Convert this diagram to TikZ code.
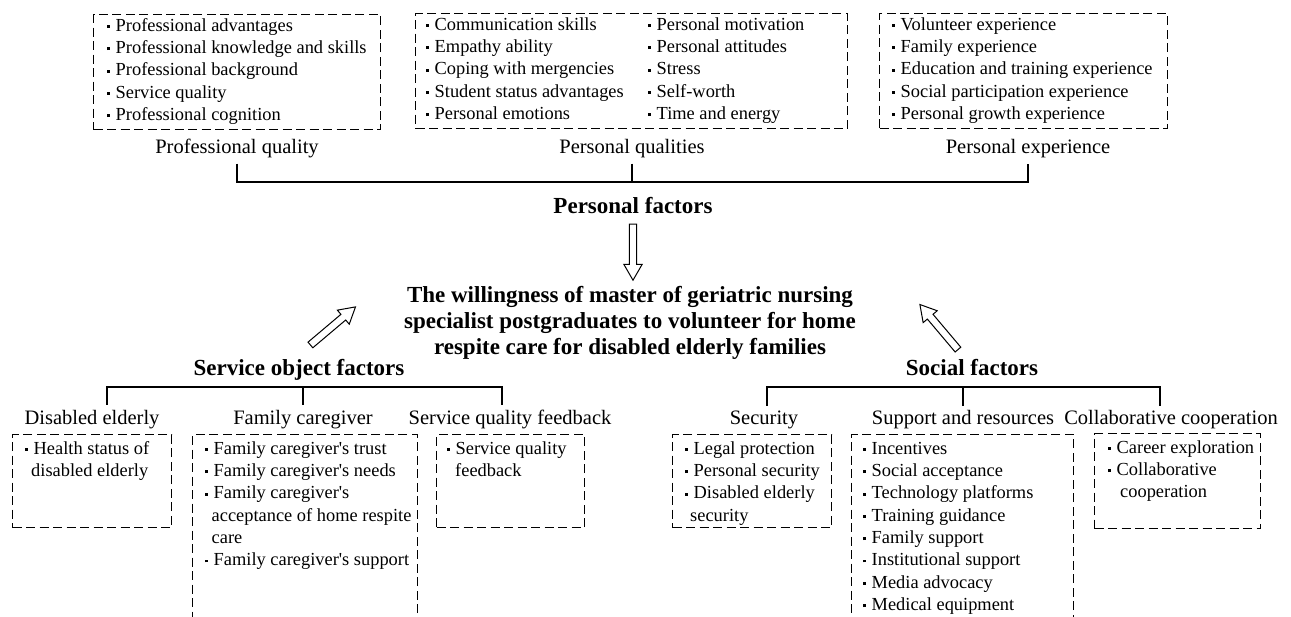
\documentclass[tikz,border=0pt]{standalone}
\usepackage{fontspec}
\setmainfont{Liberation Serif}
\usetikzlibrary{shapes.arrows}
% list bullet: small square dot, with a strut so every line has the same height
\newcommand\bu{\strut\makebox[8.5pt][l]{\raisebox{3.3pt}{\rule{2.9pt}{2.9pt}}}}
% continuation line of a wrapped list item
\newcommand\cont[1][6.5pt]{\strut\hspace*{#1}}
\newcommand\aps{\textquotesingle}

\begin{document}
\begin{tikzpicture}[x=1pt,y=-1pt,
  dbox/.style={draw, dash pattern=on 9pt off 4.5pt, line width=1.3pt, inner sep=0pt, anchor=north west},
  items/.style={inner sep=0pt, anchor=north west, align=left, font=\fontsize{18.4}{22.3}\selectfont},
  lbl/.style={inner sep=0pt, anchor=base, font=\fontsize{20.5}{24}\selectfont},
  head/.style={inner sep=0pt, anchor=base, font=\fontsize{23}{26}\selectfont\bfseries},
  bracket/.style={line width=1.3pt},
  harrow/.style={draw, line width=1pt, single arrow, single arrow head extend=5.5pt,
    single arrow tip angle=60, inner sep=3.2pt, sloped, allow upside down}]

\useasboundingbox (0,0) rectangle (1291,617);
\fill[white] (0,0) rectangle (1291,617);
\clip (0,0) rectangle (1291,617);

% ---------------- personal factors ----------------
\node[dbox, minimum width=287pt, minimum height=115pt] (pqbox) at (93,14) {};
\node[items] (pqlist) at (107,15.4) {\bu Professional advantages\\
  \bu Professional knowledge and skills\\
  \bu Professional background\\
  \bu Service quality\\
  \bu Professional cognition};

\node[dbox, minimum width=432pt, minimum height=115pt] (psbox) at (415,13) {};
\node[items] (pslistA) at (426,14.4) {\bu Communication skills\\
  \bu Empathy ability\\
  \bu Coping with mergencies\\
  \bu Student status advantages\\
  \bu Personal emotions};
\node[items] (pslistB) at (648,14.4) {\bu Personal motivation\\
  \bu Personal attitudes\\
  \bu Stress\\
  \bu Self-worth\\
  \bu Time and energy};

\node[dbox, minimum width=288pt, minimum height=115pt] (pebox) at (879,13) {};
\node[items] (pelist) at (892,14.4) {\bu Volunteer experience\\
  \bu Family experience\\
  \bu Education and training experience\\
  \bu Social participation experience\\
  \bu Personal growth experience};

\node[lbl] (pq)  at (237,154)  {Professional quality};
\node[lbl] (pqs) at (632,154)  {Personal qualities};
\node[lbl] (pe)  at (1028,154) {Personal experience};

\coordinate (bar) at (0,182);
\draw[bracket] ([yshift=-5pt]pq.south) -- (pq.south |- bar) -- (pe.south |- bar) -- ([yshift=-5pt]pe.south);
\draw[bracket] ([yshift=-5pt]pqs.south) -- (pqs.south |- bar);

\node[head] (pf) at (633,214) {Personal factors};

% ---------------- central statement ----------------
\node[inner sep=0pt, anchor=north, align=center, font=\fontsize{23}{26}\selectfont\bfseries]
  (will) at (630,283.8) {\strut The willingness of master of geriatric nursing\\
  specialist postgraduates to volunteer for home\\
  respite care for disabled elderly families};

% ---------------- service object factors ----------------
\node[head] (sof) at (299,376) {Service object factors};

\node[lbl] (de)  at (92,425)  {Disabled elderly};
\node[lbl] (fc)  at (303,425) {Family caregiver};
\node[lbl] (sqf) at (510,425) {Service quality feedback};

\coordinate (sobar) at (0,387);
\coordinate (sobL) at (107,405);
\coordinate (sobM) at (303,405);
\coordinate (sobR) at (502,405);
\draw[bracket] (sobL) -- (sobL |- sobar) -- (sobR |- sobar) -- (sobR);
\draw[bracket] (sobM) -- (sobM |- sobar);

\node[dbox, minimum width=159pt, minimum height=93pt] (debox) at (12,434) {};
\node[items] (delist) at (25,438.4) {\bu Health status of\\
  \cont[6pt]disabled elderly};

\node[dbox, minimum width=225pt, minimum height=210pt] (fcbox) at (192,434) {};
\node[items] (fclist) at (205,438.4) {\bu Family caregiver\aps s trust\\
  \bu Family caregiver\aps s needs\\
  \bu Family caregiver\aps s\\
  \cont acceptance of home respite\\
  \cont care\\
  \bu Family caregiver\aps s support};

\node[dbox, minimum width=148pt, minimum height=93pt] (sqfbox) at (436,434) {};
\node[items] (sqflist) at (447,438.4) {\bu Service quality\\
  \cont[8pt]feedback};

% ---------------- social factors ----------------
\node[head] (sf) at (972,376) {Social factors};

\node[lbl] (sec) at (764,425)  {Security};
\node[lbl] (sr)  at (963,425)  {Support and resources};
\node[lbl] (cc)  at (1171,425) {Collaborative cooperation};

\coordinate (sfbar) at (0,387);
\coordinate (sfL) at (767,406);
\coordinate (sfM) at (963,406);
\coordinate (sfR) at (1160,406);
\draw[bracket] (sfL) -- (sfL |- sfbar) -- (sfR |- sfbar) -- (sfR);
\draw[bracket] (sfM) -- (sfM |- sfbar);

\node[dbox, minimum width=159pt, minimum height=93pt] (secbox) at (672,434) {};
\node[items] (seclist) at (685,438.4) {\bu Legal protection\\
  \bu Personal security\\
  \bu Disabled elderly\\
  \cont[5pt]security};

\node[dbox, minimum width=222pt, minimum height=210pt] (srbox) at (851,434) {};
\node[items] (srlist) at (863,438.4) {\bu Incentives\\
  \bu Social acceptance\\
  \bu Technology platforms\\
  \bu Training guidance\\
  \bu Family support\\
  \bu Institutional support\\
  \bu Media advocacy\\
  \bu Medical equipment};

\node[dbox, minimum width=166pt, minimum height=95pt] (ccbox) at (1094,433) {};
\node[items] (cclist) at (1108,437.4) {\bu Career exploration\\
  \bu Collaborative\\
  \cont[12pt]cooperation};

% ---------------- hollow arrows into the central statement ----------------
\coordinate (pfA) at (633,221);
\coordinate (pfB) at (633,277);
\path (pfA) -- node[harrow, minimum height=56pt] (arrP) {} (pfB);

\coordinate (sofA) at (308,347);
\coordinate (sofB) at (353,309);
\path (sofA) -- node[harrow, minimum height=59pt] (arrS) {} (sofB);

\coordinate (sfA) at (960,352);
\coordinate (sfB) at (922,307);
\path (sfA) -- node[harrow, minimum height=59pt] (arrF) {} (sfB);

\end{tikzpicture}
\end{document}
